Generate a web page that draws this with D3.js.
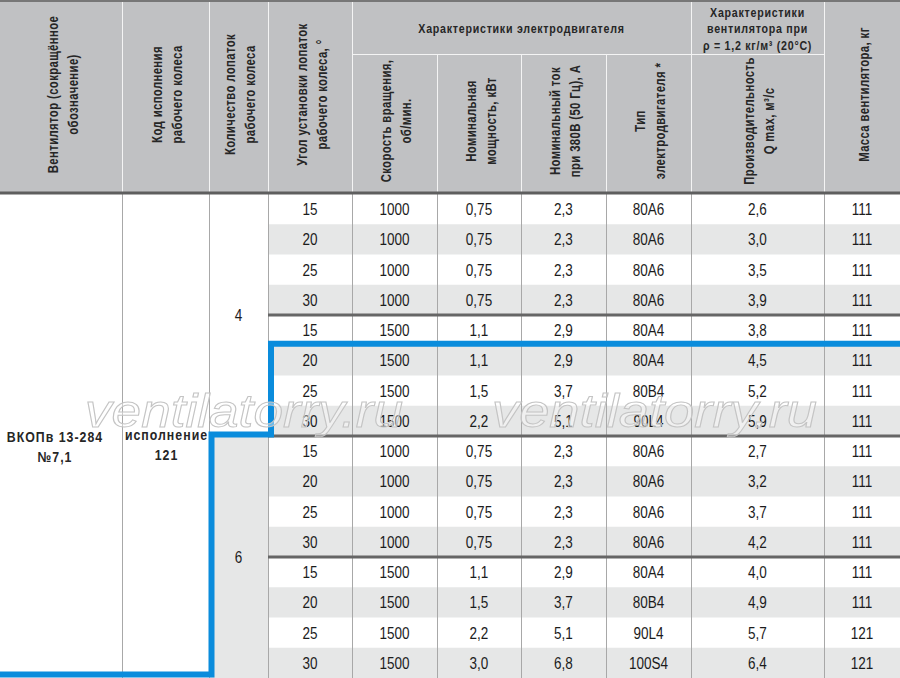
<!doctype html>
<html lang="ru">
<head>
<meta charset="UTF-8">
<title>ВКОПв 13-284 №7,1</title>
<script src="https://d3js.org/d3.v7.min.js"></script>
<style>
  html,body{margin:0;padding:0;background:#fff;overflow:hidden;}
  svg{display:block;}
  .hd{font-family:"Liberation Sans",Arial,sans-serif;font-weight:bold;fill:#262626;}
  .cell{font-family:"Liberation Sans",Arial,sans-serif;fill:#1c1c1c;}
  .wm{font-family:"Liberation Sans","DejaVu Sans",sans-serif;font-style:italic;}
</style>
</head>
<body>
<div id="chart"></div>
<script>
/* ---------- data ---------- */
const fanName   = ["ВКОПв 13-284", "№7,1"];
const wheelCode = ["исполнение", "121"];
const blades    = [4, 6];                 // each spans 8 rows
const angles    = [15,20,25,30,15,20,25,30, 15,20,25,30,15,20,25,30];
const speeds    = [1000,1000,1000,1000,1500,1500,1500,1500, 1000,1000,1000,1000,1500,1500,1500,1500];
const power     = ["0,75","0,75","0,75","0,75","1,1","1,1","1,5","2,2", "0,75","0,75","0,75","0,75","1,1","1,5","2,2","3,0"];
const current   = ["2,3","2,3","2,3","2,3","2,9","2,9","3,7","5,1", "2,3","2,3","2,3","2,3","2,9","3,7","5,1","6,8"];
const motor     = ["80A6","80A6","80A6","80A6","80A4","80A4","80B4","90L4", "80A6","80A6","80A6","80A6","80A4","80B4","90L4","100S4"];
const flow      = ["2,6","3,0","3,5","3,9","3,8","4,5","5,2","5,9", "2,7","3,2","3,7","4,2","4,0","4,9","5,7","6,4"];
const mass      = [111,111,111,111,111,111,111,111, 111,111,111,111,111,111,121,121];

const headMain  = [["Вентилятор (сокращённое","обозначение)"],
                   ["Код исполнения","рабочего колеса"],
                   ["Количество лопаток","рабочего колеса"],
                   ["Угол установки лопаток","рабочего колеса, °"]];
const headMass  = ["Масса вентилятора, кг"];
const headGroup1 = "Характеристики электродвигателя";
const headGroup2 = ["Характеристики","вентилятора при","ρ = 1,2 кг/м³ (20°С)"];
const headSub   = [["Скорость вращения,","об/мин."],
                   ["Номинальная","мощность, кВт"],
                   ["Номинальный ток","при 380В (50 Гц), А"],
                   ["Тип","электродвигателя *"],
                   ["Производительность","Q max, м³/с"]];
const watermark = "ventilatorry.ru";

/* ---------- layout ---------- */
const W = 900, H = 678;
const colX = [0,122,209,268,352,437,521,606,691,824,900];
const HEAD_B = 193, SUB_T = 54;
const GREY_HEAD = "#c0c1c3", GREY_ROW = "#e6e7e7", BLUE = "#0a8cdc";

const y = d3.scaleBand().domain(d3.range(angles.length)).range([194, H]);
const cx = i => (colX[i] + colX[i+1]) / 2;

const svg = d3.select("#chart").append("svg").attr("width", W).attr("height", H);

/* condensed text: Helvetica-like face squeezed along its baseline */
function txt(g, x, y0, t, o) {
  const rot = o.rot ? " rotate(-90)" : "";
  return g.append("text")
     .attr("transform", `translate(${x},${y0})${rot} scale(${o.sx},1)`)
     .attr("dy", o.dy || 0)
     .attr("text-anchor", "middle")
     .style("font-size", o.size + "px")
     .style("letter-spacing", (o.ls || 0) + "px")
     .text(t);
}

/* ---------- body backgrounds ---------- */
svg.append("g").selectAll("rect").data(angles.map((d,i)=>i).filter(i=>i%2===1)).join("rect")
   .attr("x", colX[3]).attr("width", W - colX[3])
   .attr("y", i => y(i)).attr("height", y.bandwidth())
   .attr("fill", GREY_ROW);

svg.append("rect").attr("x", colX[2]).attr("width", colX[3]-colX[2])
   .attr("y", y(8)).attr("height", H - y(8)).attr("fill", GREY_ROW);

/* vertical body rules */
svg.append("g").selectAll("line").data(colX.slice(1, -1)).join("line")
   .attr("x1", d => d + .5).attr("x2", d => d + .5)
   .attr("y1", HEAD_B).attr("y2", H)
   .attr("stroke", "#a8a8a8").attr("stroke-width", 1);

/* group separators */
svg.append("g").selectAll("line").data([4, 8, 12]).join("line")
   .attr("x1", colX[3]).attr("x2", W)
   .attr("y1", i => y(i)).attr("y2", i => y(i))
   .attr("stroke", "#666").attr("stroke-width", 3);
svg.append("line").attr("x1", colX[2]).attr("x2", colX[3])
   .attr("y1", y(8)).attr("y2", y(8)).attr("stroke", "#a8a8a8");

/* ---------- body text ---------- */
const cols = [angles, speeds, power, current, motor, flow, mass];
const bodyStyle = {sx: 0.82, size: 16.5, dy: "0.36em"};
const gBody = svg.append("g").attr("class", "cell");
cols.forEach((arr, k) => {
  arr.forEach((d, i) => txt(gBody, cx(k + 3), y(i) + y.bandwidth() / 2, d, bodyStyle));
});
blades.forEach((d, i) =>
  txt(gBody, cx(2), (y(i*8) + y(i*8+7) + y.bandwidth()) / 2, d, bodyStyle));

const gBold = svg.append("g").attr("class", "hd");
const boldStyle = {sx: 0.85, size: 14.5, ls: 1.2};
fanName.forEach((t, i) => txt(gBold, cx(0) - 6, 442 + i * 20, t, boldStyle));
wheelCode.forEach((t, i) => txt(gBold, cx(1) + 1, 440 + i * 20, t, boldStyle));

/* ---------- header ---------- */
const gHead = svg.append("g");
gHead.append("rect").attr("width", W).attr("height", HEAD_B).attr("fill", GREY_HEAD);

const headRules = [
  {x: colX[1], y1: 0, y2: HEAD_B}, {x: colX[2], y1: 0, y2: HEAD_B},
  {x: colX[3], y1: 0, y2: HEAD_B}, {x: colX[4], y1: 0, y2: HEAD_B},
  {x: colX[5], y1: SUB_T, y2: HEAD_B}, {x: colX[6], y1: SUB_T, y2: HEAD_B},
  {x: colX[7], y1: SUB_T, y2: HEAD_B}, {x: colX[8], y1: 0, y2: HEAD_B},
  {x: colX[9], y1: 0, y2: HEAD_B}
];
gHead.selectAll(".vr").data(headRules).join("line").attr("class", "vr")
   .attr("x1", d => d.x + .5).attr("x2", d => d.x + .5)
   .attr("y1", d => d.y1).attr("y2", d => d.y2)
   .attr("stroke", "#f4f4f4").attr("stroke-width", 1);
gHead.append("line").attr("x1", colX[4]).attr("x2", colX[9])
   .attr("y1", SUB_T + .5).attr("y2", SUB_T + .5).attr("stroke", "#f4f4f4");
gHead.append("line").attr("x1", 0).attr("x2", W).attr("y1", 1).attr("y2", 1)
   .attr("stroke", "#777").attr("stroke-width", 2);
gHead.append("line").attr("x1", 0).attr("x2", W).attr("y1", HEAD_B).attr("y2", HEAD_B)
   .attr("stroke", "#5e5e5e").attr("stroke-width", 3);

const gHt = gHead.append("g").attr("class", "hd");
const rotStyle = {rot: true, sx: 0.78, size: 14.5, ls: 0.5, dy: "0.36em"};

function rotated(lines, xc, yc) {
  const n = lines.length;
  lines.forEach((t, i) => txt(gHt, xc + 1.5 + (i - (n - 1) / 2) * 20, yc, t, rotStyle));
}
headMain.forEach((lines, i) => rotated(lines, cx(i), 94.5));
rotated(headMass, cx(9), 94.5);
headSub.forEach((lines, i) => rotated(lines, cx(i + 4), 121));

const hzStyle = {sx: 0.82, size: 13, ls: 0.9};
txt(gHt, (colX[4] + colX[8]) / 2, 32.5, headGroup1, hzStyle);
headGroup2.forEach((t, i) => txt(gHt, cx(8), 16.5 + i * 16.5, t, hzStyle));

/* ---------- highlight outline ---------- */
const bluePts = [
  [W, y(5) - 1.5], [colX[3] + 3, y(5) - 1.5],
  [colX[3] + 3, y(8) - 1.5], [colX[2] + 2.5, y(8) - 1.5],
  [colX[2] + 2.5, H - 3.5], [0, H - 3.5]
];
svg.append("path").attr("d", d3.line()(bluePts))
   .attr("fill", "none").attr("stroke", BLUE).attr("stroke-width", 6)
   .attr("stroke-linejoin", "miter");

/* ---------- watermark ---------- */
svg.append("g").selectAll("text").data([{x: 85, len: 318}, {x: 492, len: 325}]).join("text")
   .attr("class", "wm")
   .attr("x", d => d.x).attr("y", 427)
   .attr("textLength", d => d.len).attr("lengthAdjust", "spacingAndGlyphs")
   .style("font-size", "46px")
   .attr("fill", "rgba(255,255,255,0.4)")
   .attr("stroke", "#c4c4c4").attr("stroke-width", 1)
   .text(watermark);
</script>
</body>
</html>
